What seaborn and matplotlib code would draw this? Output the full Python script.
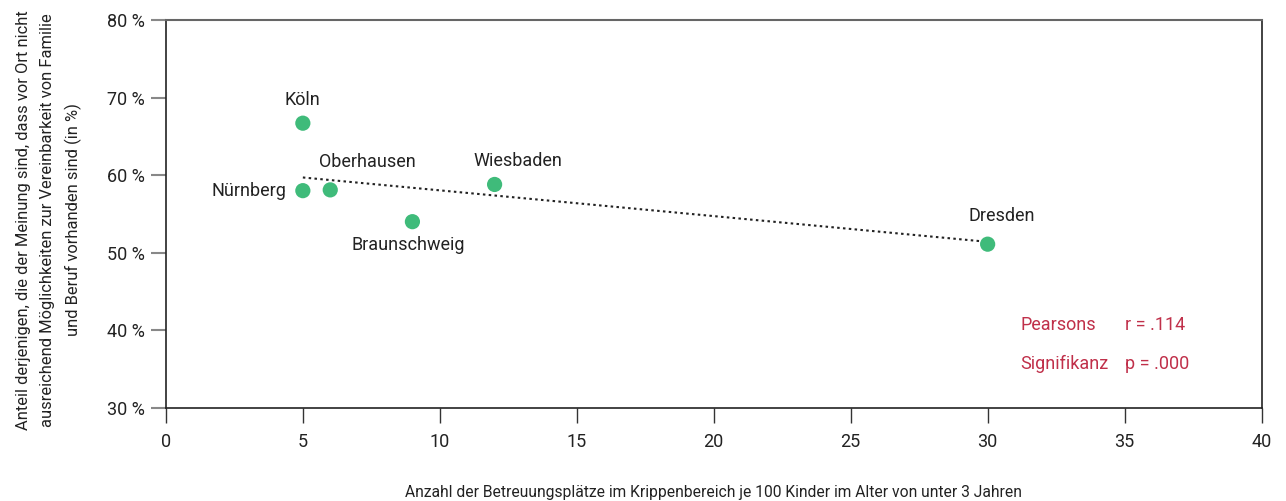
import matplotlib
matplotlib.use("Agg")
import matplotlib.pyplot as plt
import seaborn as sns
import pandas as pd

# Daten
staedte = ["Köln", "Nürnberg", "Oberhausen", "Braunschweig", "Wiesbaden", "Dresden"]
plaetze = [5, 5, 6, 9, 12, 30]
anteil = [66.7, 58.0, 58.1, 54.0, 58.8, 51.1]
trend_x = [5, 30]
trend_y = [59.7, 51.4]
x_ticks = [0, 5, 10, 15, 20, 25, 30, 35, 40]
y_ticks = [30, 40, 50, 60, 70, 80]

sns.set_theme(style="white")
plt.rcParams['font.family'] = ['Roboto', 'DejaVu Sans']

df = pd.DataFrame({"stadt": staedte, "x": plaetze, "y": anteil})

fig = plt.figure(figsize=(12.86, 5.01), dpi=100)
ax = fig.add_axes([0.129, 0.186, 0.852, 0.774])

sns.lineplot(x=trend_x, y=trend_y, ax=ax, color="#222222", linestyle=(0, (1.2, 1.6)),
             linewidth=1.5, zorder=2)
sns.scatterplot(data=df, x="x", y="y", ax=ax, color="#3fbb7a", s=120, edgecolor="none", zorder=3)

# Beschriftung der Punkte (Versatz in Punkten)
versatz = {
    "Köln": (0, 17, "center"),
    "Nürnberg": (-12, 0, "right"),
    "Oberhausen": (27, 20, "center"),
    "Braunschweig": (-3, -17, "center"),
    "Wiesbaden": (17, 17, "center"),
    "Dresden": (10, 20, "center"),
}
for s, xv, yv in zip(staedte, plaetze, anteil):
    dx, dy, ha = versatz[s]
    ax.annotate(s, (xv, yv), xytext=(dx, dy), textcoords="offset points",
                ha=ha, va="center", fontsize=13, color="#222222")

rot = "#c0304a"
ax.text(31.2, 40.7, "Pearsons", color=rot, fontsize=13, va="center")
ax.text(35.0, 40.7, "r = .114", color=rot, fontsize=13, va="center")
ax.text(31.2, 35.6, "Signifikanz", color=rot, fontsize=13, va="center")
ax.text(35.0, 35.6, "p = .000", color=rot, fontsize=13, va="center")

ax.set_xlim(0, 40)
ax.set_ylim(30, 80)
ax.set_xticks(x_ticks)
ax.set_yticks(y_ticks)
ax.set_yticklabels([f"{v} %" for v in y_ticks])
ax.tick_params(axis="x", direction="out", length=11, width=1, color="#333333",
               labelsize=13, pad=7, labelcolor="#222222")
ax.tick_params(axis="y", direction="out", length=11, width=1.5, color="#888888",
               labelsize=13, pad=4, labelcolor="#222222")
ax.xaxis.set_ticks_position("bottom")
ax.yaxis.set_ticks_position("left")

for sp in ["left", "bottom", "right"]:
    ax.spines[sp].set_color("#222222")
    ax.spines[sp].set_linewidth(1.2)
ax.spines["top"].set_color("#666666")
ax.spines["top"].set_linewidth(1.5)

ax.set_xlabel("Anzahl der Betreuungsplätze im Krippenbereich je 100 Kinder im Alter von unter 3 Jahren",
              fontsize=11.25, color="#222222")
ax.xaxis.set_label_coords(0.5, -0.2)
ax.set_ylabel("Anteil derjenigen, die der Meinung sind, dass vor Ort nicht\n"
              "ausreichend Möglichkeiten zur Vereinbarkeit von Familie\n"
              "und Beruf vorhanden sind (in %)",
              fontsize=11.9, color="#222222", linespacing=1.7)
ax.yaxis.set_label_coords(-0.077, 0.485)

fig.savefig("out.png", dpi=100)
